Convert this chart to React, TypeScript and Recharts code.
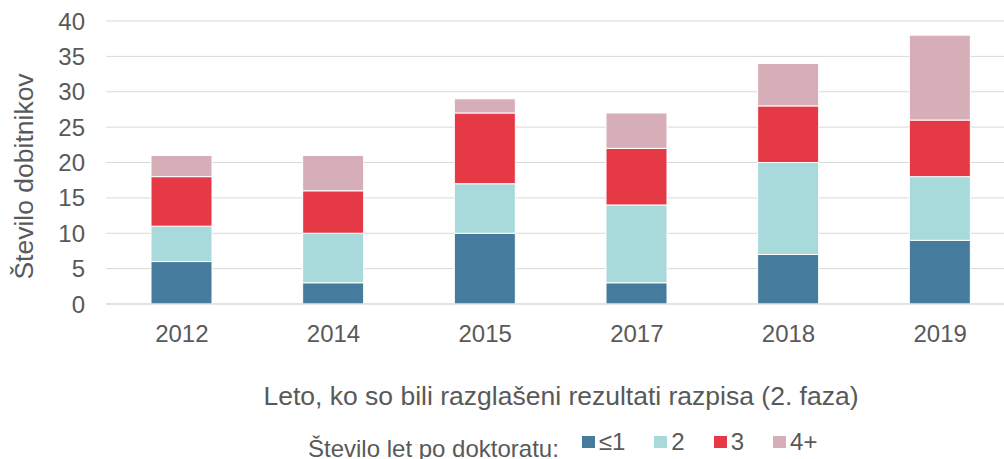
import React from "react";
import { BarChart, Bar, XAxis, YAxis, CartesianGrid, Legend } from "recharts";

const years = ["2012", "2014", "2015", "2017", "2018", "2019"];
const upTo1 = [6, 3, 10, 3, 7, 9];
const two = [5, 7, 7, 11, 13, 9];
const three = [7, 6, 10, 8, 8, 8];
const fourPlus = [3, 5, 2, 5, 6, 12];
const yTicks = [0, 5, 10, 15, 20, 25, 30, 35, 40];

const seriesInfo = [
  { key: "le1", name: "≤1", color: "#457B9D" },
  { key: "s2", name: "2", color: "#A8DADC" },
  { key: "s3", name: "3", color: "#E63946" },
  { key: "s4", name: "4+", color: "#D5AEB7" },
];

const data = years.map((year, i) => ({
  year,
  le1: upTo1[i],
  s2: two[i],
  s3: three[i],
  s4: fourPlus[i],
}));

const FONT = "'Liberation Sans', Arial, sans-serif";
const TEXT = "#595959";

function LegendBox() {
  return (
    <div
      style={{
        display: "flex",
        alignItems: "flex-start",
        fontFamily: FONT,
        fontSize: 24,
        lineHeight: "24px",
        color: TEXT,
        whiteSpace: "nowrap",
      }}
    >
      <span style={{ marginTop: 7, marginRight: 23 }}>Število let po doktoratu:</span>
      {seriesInfo.map((s) => (
        <span key={s.key} style={{ display: "flex", alignItems: "center", marginRight: 29 }}>
          <span style={{ width: 13, height: 12, background: s.color, marginRight: 4, display: "inline-block" }} />
          {s.name}
        </span>
      ))}
    </div>
  );
}

export default function App() {
  return (
    <div style={{ position: "fixed", left: 0, top: 0, width: 1004, height: 459, overflow: "hidden", background: "#fff" }}>
      <BarChart
        width={1030}
        height={459}
        data={data}
        margin={{ top: 21, right: 14, bottom: 0, left: 0 }}
        barSize={61}
      >
        <CartesianGrid vertical={false} stroke="#D9D9D9" strokeWidth={1} />
        <XAxis
          dataKey="year"
          height={155}
          axisLine={{ stroke: "#D9D9D9" }}
          tickLine={false}
          tickMargin={15}
          tick={{ fontSize: 24, fill: TEXT, fontFamily: FONT }}
          label={{
            content: (props: any) => {
              const vb = props.viewBox;
              return (
                <text
                  x={vb.x + vb.width / 2}
                  y={405}
                  textAnchor="middle"
                  fontSize={26.5}
                  fill={TEXT}
                  fontFamily={FONT}
                >
                  Leto, ko so bili razglašeni rezultati razpisa (2. faza)
                </text>
              );
            },
          }}
        />
        <YAxis
          width={106}
          domain={[0, 40]}
          ticks={yTicks}
          axisLine={false}
          tickLine={false}
          tickMargin={15}
          tick={{ fontSize: 24, fill: TEXT, fontFamily: FONT }}
          label={{
            content: (props: any) => {
              const vb = props.viewBox;
              return (
                <text
                  transform={`translate(33, ${vb.y + vb.height / 2 + 14}) rotate(-90)`}
                  textAnchor="middle"
                  fontSize={26.5}
                  fill={TEXT}
                  fontFamily={FONT}
                >
                  Število dobitnikov
                </text>
              );
            },
          }}
        />
        <Legend
          verticalAlign="middle"
          align="center"
          content={() => <LegendBox />}
          wrapperStyle={{ left: 308, top: 430, width: 700 }}
        />
        {seriesInfo.map((s) => (
          <Bar
            key={s.key}
            dataKey={s.key}
            name={s.name}
            stackId="a"
            fill={s.color}
            stroke="#fff"
            strokeWidth={1}
            isAnimationActive={false}
          />
        ))}
      </BarChart>
    </div>
  );
}
